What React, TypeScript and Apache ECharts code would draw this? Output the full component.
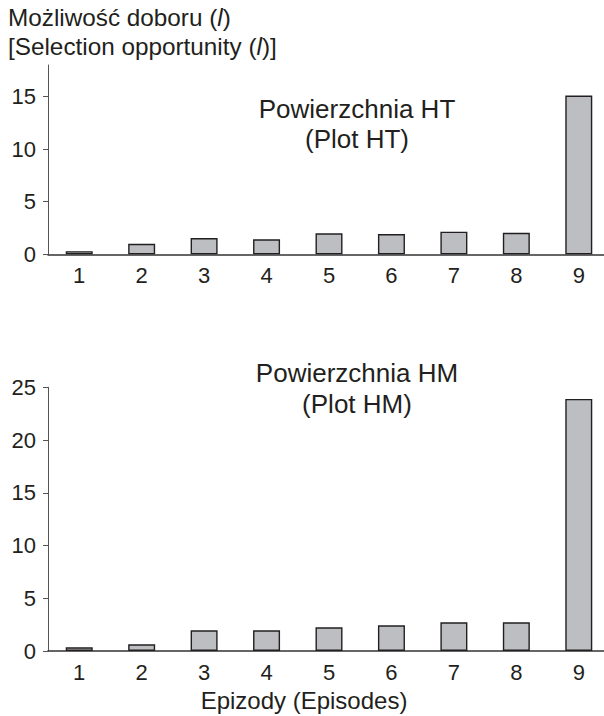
import React, { useEffect, useRef } from "react";
import * as echarts from "echarts";

const episodes = ["1", "2", "3", "4", "5", "6", "7", "8", "9"];
const plotHT = [0.3, 1.0, 1.55, 1.42, 2.0, 1.93, 2.15, 2.05, 15.1];
const plotHM = [0.35, 0.63, 1.96, 1.96, 2.25, 2.44, 2.72, 2.72, 23.9];
const ticksHT = [0, 5, 10, 15];
const ticksHM = [0, 5, 10, 15, 20, 25];

const FONT = "'Liberation Sans', Arial, Helvetica, sans-serif";
const TXT = "#231f20";

export default function App() {
  const ref = useRef<HTMLDivElement>(null);
  useEffect(() => {
    if (!ref.current) return;
    const chart = echarts.init(ref.current, null, { renderer: "svg" });
    const yAxisBase = (max: number, ticks: number[], gridIndex: number) => ({
      type: "value",
      gridIndex,
      min: 0,
      max,
      interval: 5,
      splitLine: { show: false },
      axisLine: { show: true, lineStyle: { color: "#555", width: 1 } },
      axisTick: { show: true, length: 5, customValues: ticks, lineStyle: { color: "#555" } },
      axisLabel: {
        customValues: ticks,
        margin: 12,
        fontSize: 22,
        color: TXT,
        fontFamily: FONT,
      },
    });
    const xAxisBase = (gridIndex: number) => ({
      type: "category",
      gridIndex,
      data: episodes,
      boundaryGap: true,
      axisLine: { show: true, lineStyle: { color: "#333", width: 1.5 } },
      axisTick: { show: false },
      axisLabel: { margin: 10, fontSize: 22, color: TXT, fontFamily: FONT },
    });
    const barStyle = {
      color: "#bdbec2",
      borderColor: TXT,
      borderWidth: 1.4,
    };
    const title = (text: string, y: number) => ({
      type: "text",
      x: 357,
      y,
      style: { text, fontSize: 26, fontFamily: FONT, fill: TXT, align: "center", verticalAlign: "middle" },
    });
    chart.setOption({
      animation: false,
      grid: [
        { left: 48, right: -6, top: 65, height: 189.3, outerBoundsMode: "none", containLabel: false },
        { left: 48, right: -6, top: 387.3, height: 263.7, outerBoundsMode: "none", containLabel: false },
      ],
      xAxis: [xAxisBase(0), xAxisBase(1)],
      yAxis: [yAxisBase(18, ticksHT, 0), yAxisBase(25, ticksHM, 1)],
      series: [
        { type: "bar", xAxisIndex: 0, yAxisIndex: 0, data: plotHT, barWidth: 27, itemStyle: barStyle },
        { type: "bar", xAxisIndex: 1, yAxisIndex: 1, data: plotHM, barWidth: 27, itemStyle: barStyle },
      ],
      graphic: [
        {
          type: "text",
          left: 8,
          top: 3,
          style: {
            text: "Możliwość doboru ({i|l})\n[Selection opportunity ({i|l})]",
            fontSize: 24.3,
            lineHeight: 29,
            fontFamily: FONT,
            fill: TXT,
            rich: { i: { fontStyle: "italic", fontSize: 24.3, fontFamily: FONT, fill: TXT, lineHeight: 29 } },
          },
        },
        title("Powierzchnia HT", 109),
        title("(Plot HT)", 139),
        title("Powierzchnia HM", 373),
        title("(Plot HM)", 404),
        {
          type: "text",
          x: 304,
          y: 700,
          style: { text: "Epizody (Episodes)", fontSize: 24, fontFamily: FONT, fill: TXT, align: "center", verticalAlign: "middle" },
        },
      ],
    });
    return () => chart.dispose();
  }, []);
  return (
    <div
      ref={ref}
      style={{ position: "absolute", left: 0, top: 0, width: 604, height: 716 }}
    />
  );
}
